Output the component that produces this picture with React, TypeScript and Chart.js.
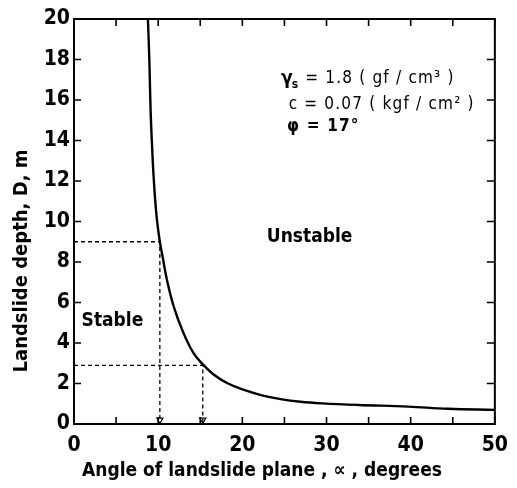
import React, { useEffect, useRef } from "react";
import { Chart, registerables } from "chart.js";

Chart.register(...registerables);

// Critical curve: angle of landslide plane (deg) vs landslide depth D (m)
const alpha = [8.78, 8.95, 9.1, 9.3, 9.46, 9.8, 10.2, 10.6, 11.0, 11.85, 13.0, 14.2, 15.3, 16.67, 18.24, 20.2, 22.2, 24.55, 26.9, 29.5, 33.8, 39.7, 44.4, 50];
const depth = [20, 18, 15.5, 13.5, 12.2, 10.3, 9.0, 8.1, 7.2, 5.8, 4.5, 3.5, 2.95, 2.42, 2.01, 1.68, 1.43, 1.23, 1.1, 1.02, 0.94, 0.86, 0.75, 0.7];

// Reading guides (dashed)
const guideDepths = [9, 2.9];
const guideAngles = [10.2, 15.3];

const xTickStep = 5;
const yTickStep = 2;
const xLabelEvery = 10;

const xTitle = "Angle of landslide plane , \u221D , degrees";
const yTitle = "Landslide depth, D, m";
const stableLabel = "Stable";
const unstableLabel = "Unstable";
const paramLine1 = " = 1.8 ( gf / cm\u00B3 )";
const paramLine2 = "c = 0.07 ( kgf / cm\u00B2 )";
const paramLine3 = "\u03C6 = 17\u00B0";

const FONT = "'Liberation Sans Narrow', 'DejaVu Sans Condensed', 'Roboto Condensed', sans-serif";

export default function App() {
  const ref = useRef<HTMLCanvasElement | null>(null);

  useEffect(() => {
    if (!ref.current) return;
    const curve = alpha.map((a, i) => ({ x: a, y: depth[i] }));
    const guides = guideDepths.map((d, i) => ({
      label: "guide" + i,
      data: [
        { x: 0, y: d },
        { x: guideAngles[i], y: d },
        { x: guideAngles[i], y: 0 },
      ],
      showLine: true,
      borderColor: "#000",
      borderWidth: 1.3,
      borderDash: [4, 3],
      pointRadius: 0,
      tension: 0,
    }));
    const arrows = {
      label: "arrows",
      data: guideAngles.map((a) => ({ x: a, y: 0.2 })),
      showLine: false,
      pointStyle: "triangle",
      rotation: 180,
      pointRadius: 3.5,
      backgroundColor: "#fff",
      borderColor: "#000",
      borderWidth: 1.2,
      clip: false,
    };

    const framePlugin = {
      id: "frame",
      afterDraw(chart: any) {
        const { ctx, chartArea: ca, scales } = chart;
        const xs = scales.x;
        const ys = scales.y;
        ctx.save();
        ctx.strokeStyle = "#000";
        ctx.lineWidth = 2;
        ctx.strokeRect(ca.left, ca.top, ca.right - ca.left, ca.bottom - ca.top);
        ctx.lineWidth = 1.6;
        ctx.beginPath();
        for (const t of xs.ticks) {
          const px = xs.getPixelForValue(t.value);
          ctx.moveTo(px, ca.bottom);
          ctx.lineTo(px, ca.bottom - 7);
          ctx.moveTo(px, ca.top);
          ctx.lineTo(px, ca.top + 7);
        }
        for (const t of ys.ticks) {
          const py = ys.getPixelForValue(t.value);
          ctx.moveTo(ca.left, py);
          ctx.lineTo(ca.left + 7, py);
          ctx.moveTo(ca.right, py);
          ctx.lineTo(ca.right - 8, py);
        }
        ctx.stroke();

        ctx.fillStyle = "#000";
        // axis titles
        ctx.font = "bold 19px " + FONT;
        ctx.textAlign = "center";
        ctx.textBaseline = "middle";
        ctx.fillText(xTitle, ca.left + 188, ca.bottom + 47);
        ctx.save();
        ctx.font = "bold 20px " + FONT;
        ctx.translate(ca.left - 52, ca.bottom - 163);
        ctx.rotate(-Math.PI / 2);
        ctx.fillText(yTitle, 0, 0);
        ctx.restore();

        // region labels
        ctx.textAlign = "left";
        ctx.font = "bold 19px " + FONT;
        ctx.fillText(unstableLabel, xs.getPixelForValue(22.9), ys.getPixelForValue(9.23));
        ctx.fillText(stableLabel, xs.getPixelForValue(0.9), ys.getPixelForValue(5.09));

        // parameters
        const p1x = xs.getPixelForValue(24.6);
        const p1y = ys.getPixelForValue(17.04);
        ctx.font = "bold 19px " + FONT;
        ctx.fillText("\u03B3", p1x, p1y);
        let w = ctx.measureText("\u03B3").width;
        ctx.font = "bold 12px " + FONT;
        ctx.fillText("s", p1x + w - 1, p1y + 6);
        w += ctx.measureText("s").width;
        ctx.font = "17px " + FONT;
        (ctx as any).letterSpacing = "1.2px";
        ctx.fillText(paramLine1, p1x + w, p1y);
        ctx.fillText(paramLine2, xs.getPixelForValue(25.5), ys.getPixelForValue(15.78));
        ctx.font = "bold 17px " + FONT;
        ctx.fillText(paramLine3, xs.getPixelForValue(25.3), ys.getPixelForValue(14.7));
        (ctx as any).letterSpacing = "0px";
        ctx.restore();
      },
    };

    const chart = new Chart(ref.current, {
      type: "scatter",
      data: {
        datasets: [
          {
            label: "critical",
            data: curve,
            showLine: true,
            borderColor: "#000",
            borderWidth: 2.4,
            pointRadius: 0,
            tension: 0.4,
          } as any,
          ...(guides as any[]),
          arrows as any,
        ],
      },
      options: {
        animation: false,
        responsive: false,
        devicePixelRatio: 1,
        layout: { padding: { top: 19, right: 20, left: 0, bottom: 0 } },
        plugins: { legend: { display: false }, tooltip: { enabled: false } },
        scales: {
          x: {
            type: "linear",
            min: 0,
            max: 50,
            afterFit: (s: any) => {
              s.height = 64;
            },
            grid: { display: false, drawTicks: false },
            border: { display: false },
            ticks: {
              stepSize: xTickStep,
              color: "#000",
              padding: 9,
              maxRotation: 0,
              autoSkip: false,
              font: { family: FONT, size: 21, weight: "bold" },
              callback: (v: any) => (Number(v) % xLabelEvery === 0 ? String(v) : ""),
            },
          },
          y: {
            type: "linear",
            min: 0,
            max: 20,
            afterFit: (s: any) => {
              s.width = 74;
            },
            grid: { display: false, drawTicks: false },
            border: { display: false },
            ticks: {
              stepSize: yTickStep,
              color: "#000",
              padding: 4,
              autoSkip: false,
              font: { family: FONT, size: 21, weight: "bold" },
            },
          },
        },
      } as any,
      plugins: [framePlugin],
    });
    return () => chart.destroy();
  }, []);

  return (
    <div style={{ position: "absolute", left: 0, top: 0, width: 517, height: 488, background: "#fff" }}>
      <canvas ref={ref} width={517} height={488} />
    </div>
  );
}
